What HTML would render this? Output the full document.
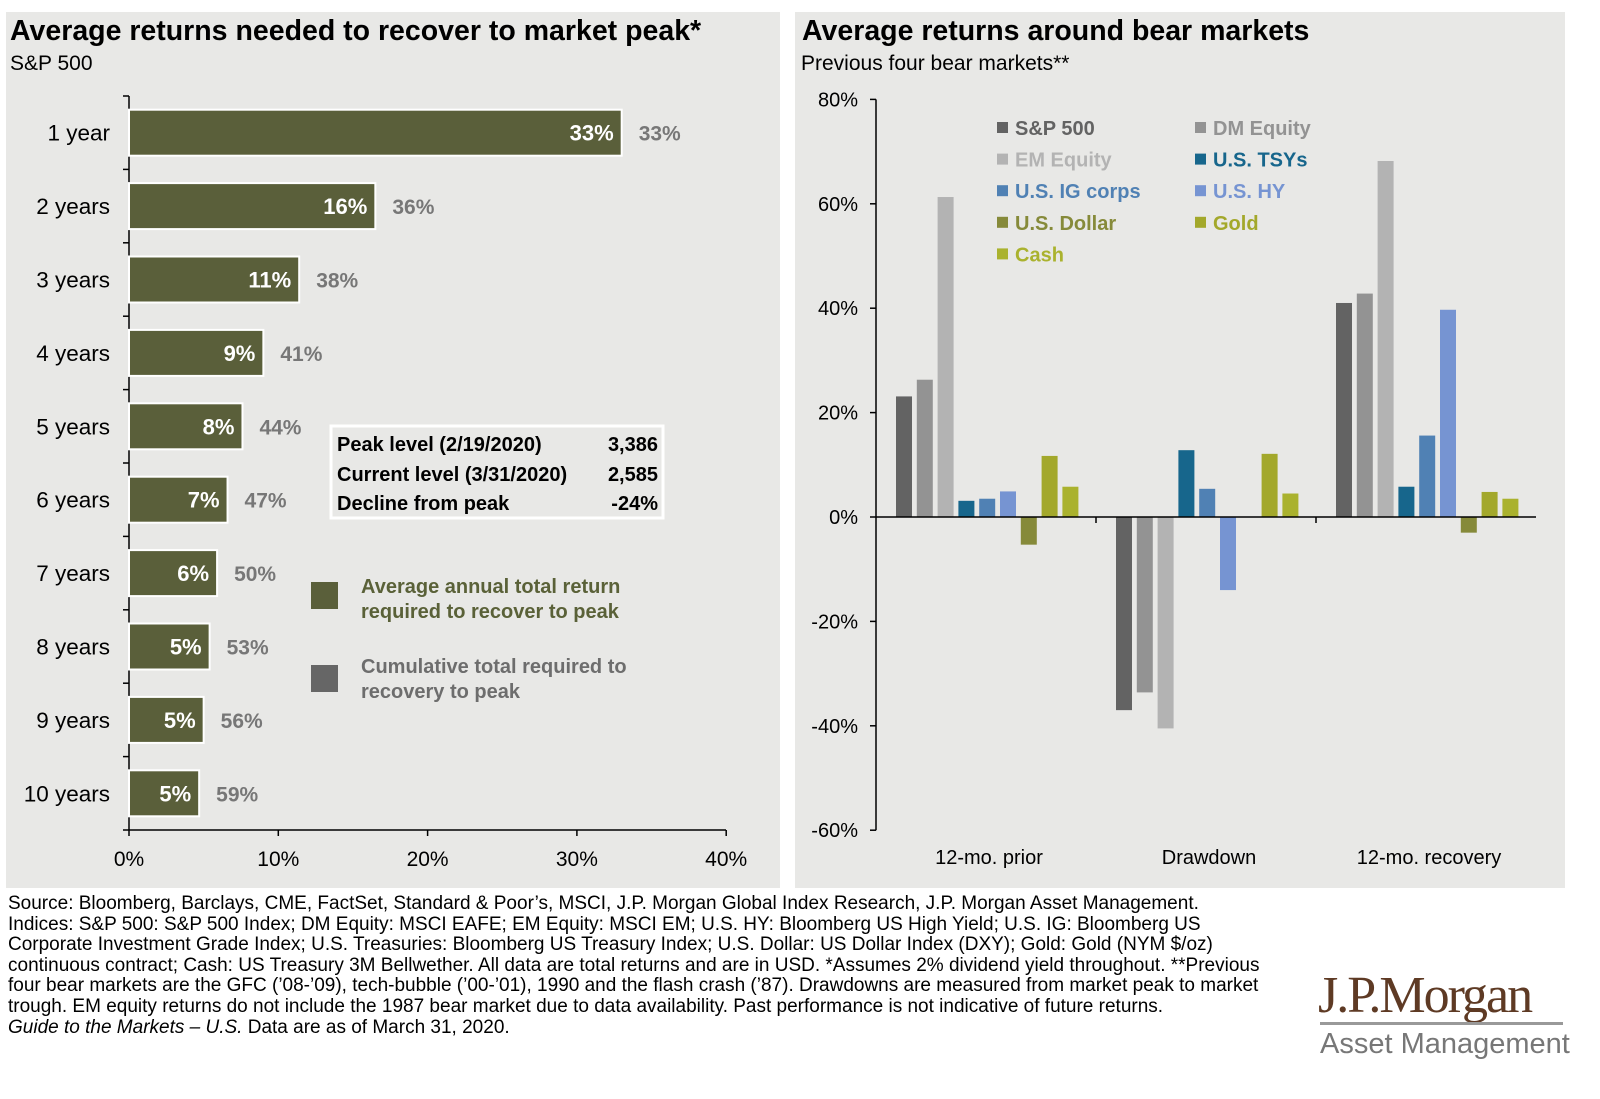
<!DOCTYPE html>
<html><head><meta charset="utf-8"><style>
body{margin:0;background:#fff;width:1600px;height:1094px;overflow:hidden;font-family:"Liberation Sans",sans-serif}
svg text{font-family:"Liberation Sans",sans-serif}
</style></head><body>
<svg id="s" width="1600" height="1094" xmlns="http://www.w3.org/2000/svg">
<rect x="6" y="12" width="774" height="876" fill="#e8e8e6"/>
<rect x="795" y="12" width="770" height="876" fill="#e8e8e6"/>
<text x="10" y="40" font-size="28.5" font-weight="bold">Average returns needed to recover to market peak*</text>
<text x="10" y="70" font-size="21">S&amp;P 500</text>
<text x="802" y="40" font-size="28.5" font-weight="bold">Average returns around bear markets</text>
<text x="801" y="70" font-size="21">Previous four bear markets**</text>
<g id="left"></g>
<g id="right"></g>
<rect x="331" y="426" width="332" height="92" fill="none" stroke="#fff" stroke-width="3"/>
<g font-size="20" font-weight="bold">
<text x="337" y="451">Peak level (2/19/2020)</text><text x="658" y="451" text-anchor="end">3,386</text>
<text x="337" y="481">Current level (3/31/2020)</text><text x="658" y="481" text-anchor="end">2,585</text>
<text x="337" y="510">Decline from peak</text><text x="658" y="510" text-anchor="end">-24%</text>
</g>
<rect x="311" y="582" width="27" height="27" fill="#5a5f3a"/>
<text x="361" y="593" font-size="20" font-weight="bold" fill="#5a6138">Average annual total return<tspan x="361" dy="25">required to recover to peak</tspan></text>
<rect x="311" y="665" width="27" height="27" fill="#666"/>
<text x="361" y="673" font-size="20" font-weight="bold" fill="#6d6d6d">Cumulative  total required to<tspan x="361" dy="25">recovery to peak</tspan></text>
<g font-size="19">
<text x="8" y="909">Source: Bloomberg, Barclays, CME, FactSet, Standard &amp; Poor’s, MSCI, J.P. Morgan Global Index Research, J.P. Morgan Asset Management.</text>
<text x="8" y="930">Indices: S&amp;P 500: S&amp;P 500 Index; DM Equity: MSCI EAFE; EM Equity: MSCI EM; U.S. HY: Bloomberg US High Yield; U.S. IG: Bloomberg US</text>
<text x="8" y="950">Corporate Investment Grade Index; U.S. Treasuries: Bloomberg US Treasury Index; U.S. Dollar: US Dollar Index (DXY); Gold: Gold (NYM $/oz)</text>
<text x="8" y="971">continuous contract; Cash: US Treasury 3M Bellwether. All data are total returns and are in USD. *Assumes 2% dividend yield throughout. **Previous</text>
<text x="8" y="991">four bear markets are the GFC (’08-’09), tech-bubble (’00-’01), 1990 and the flash crash (’87). Drawdowns are measured from market peak to market</text>
<text x="8" y="1012">trough. EM equity returns do not include the 1987 bear market due to data availability. Past performance is not indicative of future returns.</text>
<text x="8" y="1033"><tspan font-style="italic">Guide to the Markets – U.S.</tspan> Data are as of March 31, 2020.</text>
</g>
<text x="1318" y="1012" font-size="52" fill="#5e3a24" letter-spacing="-2" style="font-family:'Liberation Serif',serif">J.P.Morgan</text>
<rect x="1320" y="1022" width="243" height="3" fill="#999"/>
<text x="1320" y="1053" font-size="29" fill="#777">Asset Management</text>
</svg>
<script>
const NS="http://www.w3.org/2000/svg";
// Left chart data
const years=["1 year","2 years","3 years","4 years","5 years","6 years","7 years","8 years","9 years","10 years"];
const annual=[33,16.5,11.4,9,7.6,6.6,5.9,5.4,5.0,4.7];
const annualLabels=["33%","16%","11%","9%","8%","7%","6%","5%","5%","5%"];
const cumLabels=["33%","36%","38%","41%","44%","47%","50%","53%","56%","59%"];
const xTicks=[0,10,20,30,40];
// Right chart data
const groups=["12-mo. prior","Drawdown","12-mo. recovery"];
const seriesNames=["S&P 500","DM Equity","EM Equity","U.S. TSYs","U.S. IG corps","U.S. HY","U.S. Dollar","Gold","Cash"];
const prior=[23.1,26.3,61.3,3.1,3.5,4.9,-5.3,11.7,5.8];
const drawdown=[-37,-33.6,-40.5,12.8,5.4,-14,0,12.1,4.5];
const recovery=[41,42.8,68.2,5.8,15.6,39.7,-3,4.8,3.5];
const yTicks=[80,60,40,20,0,-20,-40,-60];
const colors=["#636363","#939393","#b3b3b3","#17668c","#5081b4","#7694d2","#868a3a","#a3a82b","#aab22e"];
function mk(p,t,a){const e=document.createElementNS(NS,t);for(const k in a)e.setAttribute(k,a[k]);p.appendChild(e);return e;}
// Left
const L=document.getElementById('left');
const lx=v=>129+v*14.93, plotTop=96, band=73.4;
const lyC=i=>plotTop+band*(i+0.5);
mk(L,'line',{x1:129,y1:plotTop,x2:129,y2:830,stroke:'#000','stroke-width':1.5});
mk(L,'line',{x1:129,y1:830,x2:726,y2:830,stroke:'#000','stroke-width':1.5});
for(let i=0;i<=years.length;i++){const y=plotTop+band*i;mk(L,'line',{x1:123,y1:y,x2:129,y2:y,stroke:'#000','stroke-width':1.5});}
xTicks.forEach(v=>{
 mk(L,'line',{x1:lx(v),y1:830,x2:lx(v),y2:836,stroke:'#000','stroke-width':1.5});
 const t=mk(L,'text',{x:lx(v),y:866,'font-size':21,'text-anchor':'middle'});t.textContent=v+'%';
 
 
});
years.forEach((c,i)=>{
 const yc=lyC(i);
 const r=mk(L,'rect',{x:129,y:yc-23,width:lx(annual[i])-129,height:46,fill:'#5a5f3a',stroke:'#fff','stroke-width':2});
 
 
 const cl=mk(L,'text',{x:110,y:yc+8,'font-size':22.5,'text-anchor':'end'});cl.textContent=c;
 
 
 const il=mk(L,'text',{x:lx(annual[i])-8,y:yc+8,'font-size':22,'font-weight':'bold',fill:'#fff','text-anchor':'end'});il.textContent=annualLabels[i];
 
 
 const ol=mk(L,'text',{x:lx(annual[i])+17,y:yc+8,'font-size':21,'font-weight':'bold',fill:'#777'});ol.textContent=cumLabels[i];
 
 
});
// Right
const R=document.getElementById('right');
const ry=v=>517-v*5.22;
mk(R,'line',{x1:876,y1:ry(80),x2:876,y2:ry(-60),stroke:'#000','stroke-width':1.5});
yTicks.forEach(v=>{
 mk(R,'line',{x1:870,y1:ry(v),x2:876,y2:ry(v),stroke:'#000','stroke-width':1.5});
 const t=mk(R,'text',{x:858,y:ry(v)+7,'font-size':20,'text-anchor':'end'});t.textContent=v+'%';
 
 
});
const gW=220,g0=876;
const allSeries=[prior,drawdown,recovery];
groups.forEach((g,gi)=>{
 const gx=g0+gW*gi;
 allSeries[gi].forEach((v,si)=>{
  const x=gx+20+si*20.8;
  const y=Math.min(ry(v),ry(0)), h=Math.abs(ry(v)-ry(0));
  const r=mk(R,'rect',{x:x,y:y,width:16,height:h,fill:colors[si]});
  
  
 });
 const t=mk(R,'text',{x:gx+gW/2+3,y:864,'font-size':20,'text-anchor':'middle'});t.textContent=g;
 
 
 if(gi>0)mk(R,'line',{x1:gx,y1:517,x2:gx,y2:523,stroke:'#000','stroke-width':1.5});
});
mk(R,'line',{x1:876,y1:517,x2:1536,y2:517,stroke:'#000','stroke-width':1.5});
seriesNames.forEach((n,i)=>{
 const col=i%2,row=Math.floor(i/2);
 const x=997+col*198,y=128+row*31.6;
 const sq=mk(R,'rect',{x:x,y:y-6,width:11,height:11,fill:colors[i]});
 
 
 const t=mk(R,'text',{x:x+18,y:y+7,'font-size':20,'font-weight':'bold',fill:colors[i]});t.textContent=n;
 
 
});
</script>
</body></html>
